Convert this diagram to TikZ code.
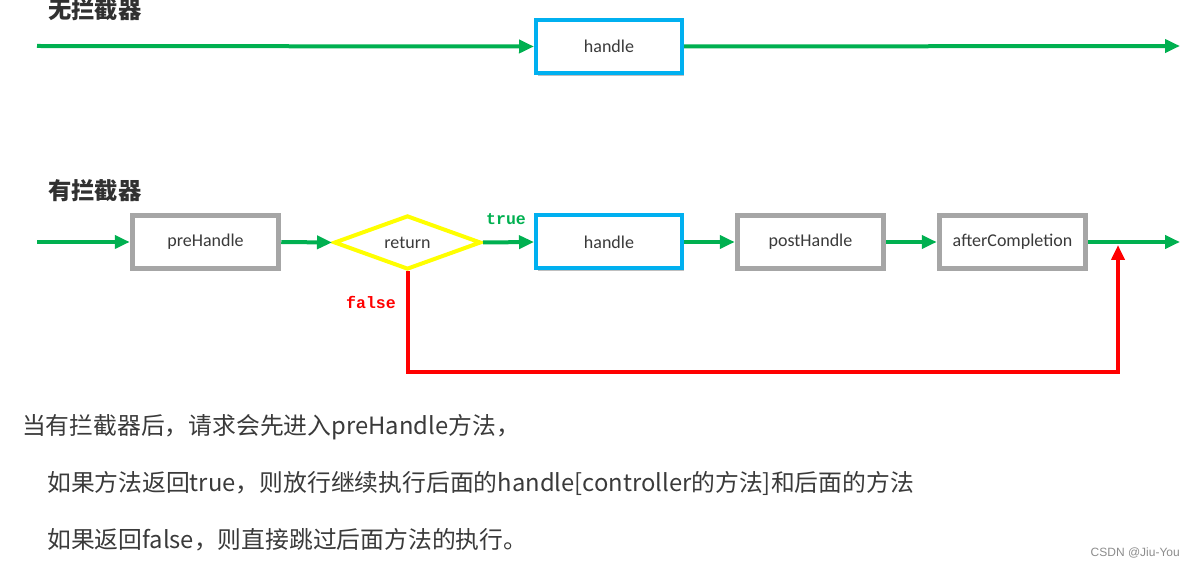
\documentclass[tikz,border=0pt]{standalone}
\usepackage{fontspec}
\setmainfont{Carlito}
\newfontfamily\cjk{Noto Sans CJK SC}
\newfontfamily\monob{Liberation Mono}
\newfontfamily\wm{Liberation Sans}
\usetikzlibrary{arrows.meta,shapes.geometric,shadows}
\definecolor{flowgreen}{HTML}{00B050}
\definecolor{boxblue}{HTML}{00B0F0}
\definecolor{boxgray}{HTML}{A6A6A6}
\definecolor{diayellow}{HTML}{FFFF00}
\definecolor{flowred}{HTML}{FF0000}
\definecolor{txtgray}{HTML}{3A3A3A}
\tikzset{
  boxbase/.style={rectangle, fill=white, minimum width=146pt, minimum height=53pt,
    inner sep=0pt, font=\fontsize{18}{20}\selectfont, text=txtgray,
    drop shadow={shadow xshift=2pt, shadow yshift=-3pt, opacity=0.25, fill=black}},
  graybox/.style={boxbase, draw=boxgray, line width=5.5pt},
  bluebox/.style={boxbase, draw=boxblue, line width=4pt},
  decide/.style={diamond, draw=diayellow, line width=4pt, fill=white, aspect=2.7,
    minimum width=147pt, minimum height=54pt, inner sep=0pt,
    font=\fontsize{18}{20}\selectfont, text=txtgray},
  gflow/.style={draw=flowgreen, line width=4pt, -{Triangle[length=15pt,width=13pt]}},
  rflow/.style={draw=flowred, line width=4pt, -{Triangle[length=15pt,width=13pt]}},
  heading/.style={anchor=west, font=\cjk\bfseries\fontsize{23.3}{25}\selectfont, text=txtgray!85!black, inner sep=0pt},
  bodytext/.style={anchor=west, font=\cjk\fontsize{23.8}{26}\selectfont, text=txtgray, inner sep=0pt},
  flag/.style={anchor=west, font=\monob\bfseries\fontsize{16.5}{18}\selectfont, inner sep=0pt}
}
\begin{document}
\begin{tikzpicture}[x=1pt,y=-1pt]
\useasboundingbox (0,0) rectangle (1192,569);

% headings
\node[heading] (h1) at (48,10) {无拦截器};
\node[heading] (h2) at (48,191) {有拦截器};

% row 1
\coordinate (s1) at (37,46);
\coordinate (e1) at (1180,46);
\node[bluebox] (hd1) at (609,46.5) {handle};
\draw[gflow] (s1) -- (hd1.west);
\draw[gflow] (hd1.east) -- (e1);

% row 2
\coordinate (s2) at (37,242);
\coordinate (e2) at (1180,242);
\node[graybox] (pre) at (205.5,242) {preHandle};
\node[decide] (ret) at (407.5,242.5) {return};
\node[bluebox] (hd2) at (609,242) {handle};
\node[graybox] (post) at (810.5,242) {postHandle};
\node[graybox] (aft) at (1012.5,242) {afterCompletion};

\draw[gflow] (s2) -- (pre.west);
\draw[gflow] (pre.east) -- (ret.west);
\draw[gflow] (ret.east) -- (hd2.west);
\draw[gflow] (hd2.east) -- (post.west);
\draw[gflow] (post.east) -- (aft.west);
\draw[gflow] (aft.east) -- (e2);

\coordinate (rc) at (1118,372);
\coordinate (mg) at (1118,245);
\draw[rflow, line join=miter] (ret.south) |- (rc) -- (mg);

\node[flag, text=flowgreen] (tr) at (486,219) {true};
\node[flag, text=flowred] (fa) at (346,302) {false};

% explanation text
\node[bodytext] (l1) at (22,427) {当有拦截器后，请求会先进入preHandle方法，};
\node[bodytext] (l2) at (47,483) {如果方法返回true，则放行继续执行后面的handle[controller的方法]和后面的方法};
\node[bodytext] (l3) at (47,540) {如果返回false，则直接跳过后面方法的执行。};

\node[anchor=east, font=\wm\fontsize{12}{13}\selectfont, text=black!45, inner sep=0pt] (wmk) at (1180,553) {CSDN @Jiu-You};
\end{tikzpicture}
\end{document}
